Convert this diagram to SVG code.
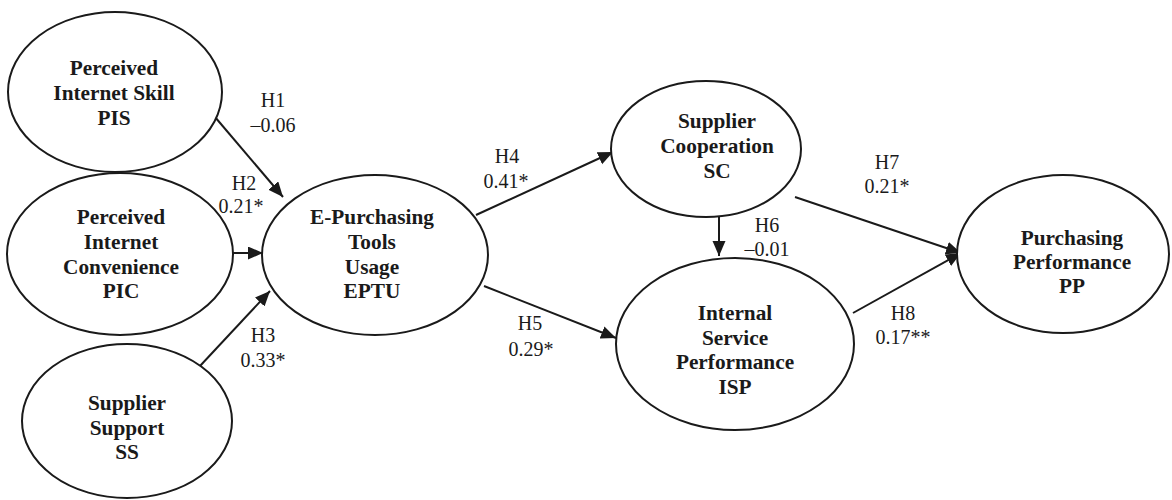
<svg xmlns="http://www.w3.org/2000/svg" width="1172" height="500" viewBox="0 0 1172 500">
  <defs>
    <style>
      .node ellipse { fill: #ffffff; stroke: #1a1a1a; stroke-width: 2; }
      .node text { font-weight: bold; font-size: 21.3px; fill: #1a1a1a; text-anchor: middle; }
      .edge line { stroke: #1a1a1a; stroke-width: 2; marker-end: url(#arrow); }
      .lbl { font-size: 20px; fill: #1a1a1a; text-anchor: middle; }
    </style>
    <marker id="arrow" markerUnits="userSpaceOnUse" markerWidth="16" markerHeight="14" refX="15" refY="6.5" orient="auto">
      <path d="M0,0 L15,6.5 L0,13 z" fill="#1a1a1a"/>
    </marker>
  </defs>
  <rect width="1172" height="500" fill="#ffffff"/>

  <!-- structural paths -->
  <g id="connectors" class="edge">
    <line x1="215" y1="117" x2="283" y2="197"/>
    <line x1="233" y1="253" x2="263" y2="253"/>
    <line x1="200" y1="366" x2="270" y2="291"/>
    <line x1="476" y1="215" x2="613" y2="152"/>
    <line x1="484" y1="286" x2="616" y2="338"/>
    <line x1="719" y1="217" x2="719" y2="256"/>
    <line x1="795" y1="197" x2="961" y2="253"/>
    <line x1="853" y1="313" x2="961" y2="253"/>
  </g>

  <g font-family="'Liberation Serif', 'DejaVu Serif', serif">
  <g id="labels">
    <text class="lbl" x="273" y="107">H1</text>
    <text class="lbl" x="273" y="132">–0.06</text>
    <text class="lbl" x="244" y="190">H2</text>
    <text class="lbl" x="241" y="213">0.21*</text>
    <text class="lbl" x="263" y="342">H3</text>
    <text class="lbl" x="263" y="367">0.33*</text>
    <text class="lbl" x="507" y="163">H4</text>
    <text class="lbl" x="506" y="188">0.41*</text>
    <text class="lbl" x="530" y="330">H5</text>
    <text class="lbl" x="531" y="356">0.29*</text>
    <text class="lbl" x="767" y="232">H6</text>
    <text class="lbl" x="767" y="256">–0.01</text>
    <text class="lbl" x="887" y="169">H7</text>
    <text class="lbl" x="887" y="193">0.21*</text>
    <text class="lbl" x="903" y="320">H8</text>
    <text class="lbl" x="903" y="344">0.17**</text>
  </g>

  <g id="PIS" class="node">
    <ellipse cx="115" cy="92" rx="107" ry="80"/>
    <text x="114" y="75">Perceived</text>
    <text x="114" y="100">Internet Skill</text>
    <text x="114" y="125">PIS</text>
  </g>

  <g id="PIC" class="node">
    <ellipse cx="120" cy="254" rx="113" ry="81"/>
    <text x="121" y="224">Perceived</text>
    <text x="121" y="249">Internet</text>
    <text x="121" y="274">Convenience</text>
    <text x="121" y="298">PIC</text>
  </g>

  <g id="SS" class="node">
    <ellipse cx="127" cy="421" rx="105" ry="77"/>
    <text x="127" y="410">Supplier</text>
    <text x="127" y="435">Support</text>
    <text x="127" y="459">SS</text>
  </g>

  <g id="EPTU" class="node">
    <ellipse cx="375" cy="255" rx="113" ry="80"/>
    <text x="372" y="224">E-Purchasing</text>
    <text x="372" y="249">Tools</text>
    <text x="372" y="274">Usage</text>
    <text x="372" y="298">EPTU</text>
  </g>

  <g id="SC" class="node">
    <ellipse cx="706" cy="149" rx="95" ry="68"/>
    <text x="717" y="128">Supplier</text>
    <text x="717" y="153">Cooperation</text>
    <text x="717" y="178">SC</text>
  </g>

  <g id="ISP" class="node">
    <ellipse cx="735" cy="344" rx="119" ry="86"/>
    <text x="735" y="320">Internal</text>
    <text x="735" y="345">Service</text>
    <text x="735" y="369">Performance</text>
    <text x="735" y="394">ISP</text>
  </g>

  <g id="PP" class="node">
    <ellipse cx="1063" cy="254" rx="106" ry="79"/>
    <text x="1072" y="245">Purchasing</text>
    <text x="1072" y="269">Performance</text>
    <text x="1072" y="293">PP</text>
  </g>
  </g>
</svg>
